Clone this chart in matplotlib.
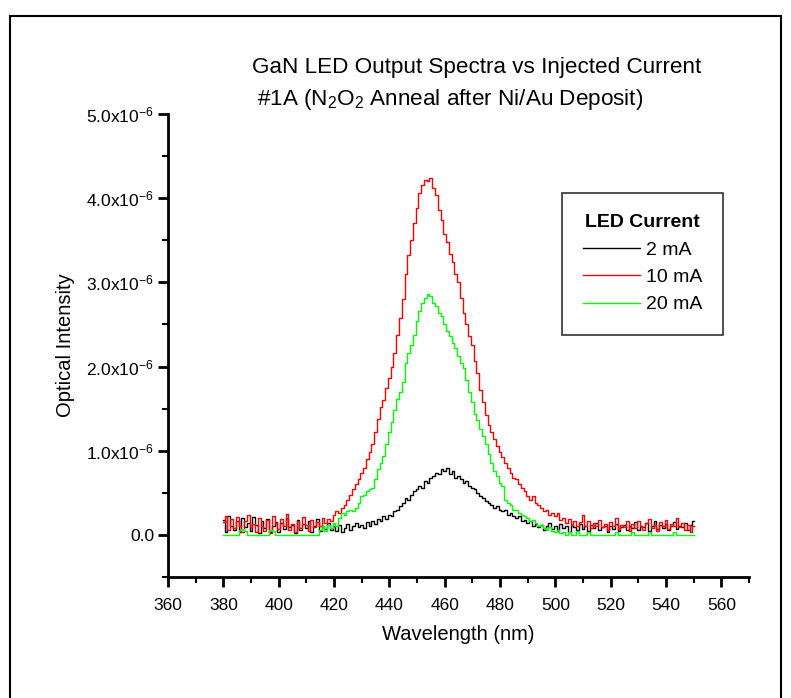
import numpy as np
import matplotlib
matplotlib.use("Agg")
import matplotlib.pyplot as plt
from matplotlib.patches import Rectangle
from matplotlib.lines import Line2D
from matplotlib.ticker import FixedLocator, MultipleLocator

plt.rcParams['font.family'] = ['Liberation Sans', 'DejaVu Sans']
plt.rcParams['mathtext.fontset'] = 'custom'
plt.rcParams['mathtext.rm'] = 'Liberation Sans'
plt.rcParams['mathtext.it'] = 'Liberation Sans'
plt.rcParams['mathtext.bf'] = 'Liberation Sans:bold'

# ---------------- data (intensity in units of 1e-7) ----------------
wavelength_start = 380
wavelength_stop = 550

current_2mA = [
    1.8, 0.4, 2.2, 1.0, 0.6, 1.7, 0.3, 2.0, 0.9, 1.4,
    0.5, 2.1, 1.2, 0.2, 1.6, 0.8, 1.9, 0.4, 1.1, 1.5,
    0.3, 1.4, 0.7, 2.0, 0.9, 1.2, 0.2, 1.8, 0.6, 1.3,
    0.8, 1.6, 0.4, 1.1, 1.9, 0.5, 1.0, 0.7, 1.4, 0.6,
    1.1, 0.5, 1.2, 0.3, 0.8, 1.3, 0.6, 1.0, 1.4, 0.9,
    1.2, 0.8, 1.5, 1.1, 1.7, 1.3, 1.9, 1.6, 2.2, 1.9,
    2.4, 2.2, 2.8, 3.0, 3.4, 3.8, 4.4, 4.2, 4.8, 5.2,
    5.4, 5.8, 5.6, 6.4, 6.2, 6.8, 7.0, 7.4, 7.2, 7.8,
    7.6, 7.9, 7.2, 7.6, 6.8, 7.0, 6.6, 6.2, 6.4, 5.8,
    5.6, 5.4, 5.0, 4.6, 4.4, 4.0, 3.8, 3.6, 3.2, 3.4,
    3.0, 2.8, 3.0, 2.4, 2.6, 2.2, 2.0, 2.2, 1.6, 1.8,
    1.4, 1.6, 1.0, 1.3, 0.9, 1.2, 0.6, 1.0, 1.4, 0.7,
    1.1, 0.5, 1.3, 0.8, 1.0, 0.4, 1.2, 0.9, 0.6, 1.3,
    0.7, 1.0, 0.5, 1.2, 0.8, 1.4, 0.6, 0.9, 1.1, 0.4,
    1.0, 0.7, 1.3, 0.5, 0.9, 1.2, 0.6, 1.0, 0.8, 1.5,
    0.6, 1.1, 0.9, 1.4, 0.5, 1.0, 1.7, 0.7, 1.2, 0.8,
    1.3, 0.6, 1.0, 1.5, 0.7, 1.1, 0.9, 1.4, 0.6, 1.2,
    1.6,
]

current_10mA = [
    1.5, 2.3, 0.6, 1.9, 0.8, 2.1, 1.0, 0.4, 1.7, 2.4,
    0.9, 1.3, 0.3, 2.0, 1.1, 0.5, 1.8, 0.2, 2.2, 1.4,
    0.7, 1.9, 1.0, 2.5, 0.6, 1.3, 0.4, 1.6, 0.8, 2.1,
    1.2, 0.5, 1.8, 0.9, 1.5, 1.1, 2.0, 1.4, 1.9, 1.6,
    2.4, 2.8, 2.6, 3.2, 3.6, 4.2, 4.8, 5.4, 6.0, 6.6,
    7.4, 8.0, 9.0, 9.8, 10.8, 12.2, 13.8, 15.2, 16.0, 17.4,
    18.6, 20.0, 21.6, 23.8, 25.8, 28.0, 31.0, 33.2, 35.0, 37.0,
    38.8, 40.6, 41.6, 42.2, 42.0, 42.4, 41.2, 40.4, 38.6, 37.4,
    35.8, 34.8, 33.4, 32.4, 31.0, 30.0, 28.2, 26.4, 25.0, 23.6,
    22.6, 20.6, 19.2, 17.2, 15.8, 14.2, 13.0, 12.2, 11.4, 10.6,
    9.8, 9.2, 8.6, 8.0, 7.4, 6.8, 6.6, 6.0, 5.6, 5.2,
    4.6, 4.2, 4.6, 3.8, 3.6, 3.2, 2.8, 3.0, 2.4, 2.6,
    2.2, 2.6, 1.8, 2.0, 1.4, 1.9, 1.2, 1.7, 1.0, 1.5,
    2.4, 1.1, 1.6, 0.8, 1.4, 1.0, 1.8, 0.9, 1.3, 0.6,
    1.5, 1.0, 2.0, 0.7, 1.2, 0.9, 1.6, 0.5, 1.3, 0.8,
    1.7, 1.1, 0.6, 1.4, 1.9, 0.8, 1.2, 0.5, 1.5, 1.0,
    1.8, 0.7, 1.3, 1.1, 2.0, 0.9, 1.4, 0.6, 1.2, 0.4,
    1.0,
]

current_20mA = [
    0.0, 0.0, 0.0, 0.0, 0.0, 0.0, 0.6, 0.7, 0.5, 0.0,
    0.0, 0.0, 0.0, 0.0, 0.0, 0.0, 0.0, 0.6, 0.5, 0.0,
    0.0, 0.0, 0.0, 0.0, 0.0, 0.0, 0.0, 0.0, 0.0, 0.0,
    0.0, 0.0, 0.0, 0.0, 0.0, 0.6, 1.0, 0.5, 1.2, 0.8,
    1.4, 1.0, 2.0, 2.6, 2.4, 2.8, 3.0, 2.8, 3.2, 3.8,
    4.6, 4.8, 5.2, 5.4, 5.6, 6.6, 7.8, 8.6, 9.4, 10.8,
    12.2, 13.4, 14.8, 16.2, 17.0, 18.2, 20.4, 21.6, 22.6, 23.8,
    25.4, 26.6, 27.6, 28.2, 28.6, 28.4, 27.6, 27.2, 26.4, 26.0,
    25.0, 24.2, 23.6, 22.8, 22.2, 21.2, 20.4, 19.8, 18.4, 17.0,
    15.8, 14.4, 13.6, 12.6, 11.8, 10.8, 9.6, 8.6, 7.6, 7.0,
    6.2, 5.8, 4.2, 3.8, 3.6, 3.0, 3.0, 2.6, 2.4, 2.2,
    2.0, 1.6, 1.8, 1.4, 1.0, 1.2, 0.8, 0.6, 0.9, 0.5,
    0.4, 0.6, 0.2, 0.4, 0.0, 0.3, 0.0, 0.0, 0.5, 0.0,
    0.0, 0.0, 0.4, 0.0, 0.0, 0.0, 0.0, 0.0, 0.0, 0.0,
    0.0, 0.0, 0.4, 0.0, 0.0, 0.0, 0.0, 0.0, 0.3, 0.0,
    0.0, 0.0, 0.0, 0.0, 0.4, 0.0, 0.0, 0.0, 0.0, 0.0,
    0.0, 0.0, 0.0, 0.3, 0.0, 0.0, 0.0, 0.0, 0.0, 0.0,
    0.0,
]

series_labels = ['2 mA', '10 mA', '20 mA']
series_colors = ['#000000', '#FF0000', '#00FF00']

x_ticks = [360, 380, 400, 420, 440, 460, 480, 500, 520, 540, 560]
x_tick_labels = ['360', '380', '400', '420', '440', '460', '480', '500', '520', '540', '560']
y_ticks = [0.0, 1e-6, 2e-6, 3e-6, 4e-6, 5e-6]
y_tick_labels = ['0.0', r'1.0x10$^{\mathrm{-6}}$', r'2.0x10$^{\mathrm{-6}}$',
                 r'3.0x10$^{\mathrm{-6}}$', r'4.0x10$^{\mathrm{-6}}$', r'5.0x10$^{\mathrm{-6}}$']

# ---------------- figure ----------------
W, H = 791, 698
fig = plt.figure(figsize=(W / 100, H / 100), dpi=100)

# outer frame (bottom edge falls outside the image)
fig.patches.append(Rectangle((10 / W, -0.05), (781 - 10) / W, 1.05 - 16 / H,
                             transform=fig.transFigure, fill=False,
                             edgecolor='black', linewidth=1.5))

ax = fig.add_axes([168 / W, 1 - 577 / H, (749 - 168) / W, (577 - 114) / H])

wl = np.arange(wavelength_start, wavelength_stop + 1)
scale = 1e-7
for vals, lab, col in zip([current_2mA, current_10mA, current_20mA], series_labels, series_colors):
    ax.plot(wl, np.asarray(vals) * scale, drawstyle='steps-mid', color=col,
            linewidth=1.0, label=lab)

ax.set_xlim(360, 570)
ax.set_ylim(-0.5e-6, 5e-6)

for s in ['top', 'right']:
    ax.spines[s].set_visible(False)
for s in ['left', 'bottom']:
    ax.spines[s].set_linewidth(2.0)

ax.xaxis.set_major_locator(FixedLocator(x_ticks))
ax.set_xticklabels(x_tick_labels)
ax.xaxis.set_minor_locator(MultipleLocator(10))
ax.yaxis.set_major_locator(FixedLocator(y_ticks))
ax.set_yticklabels(y_tick_labels)
ax.yaxis.set_minor_locator(MultipleLocator(0.5e-6))

ax.tick_params(which='major', direction='out', length=7, width=2, labelsize=12.5)
ax.tick_params(axis='x', which='major', pad=8)
ax.tick_params(axis='y', which='major', pad=3)
ax.tick_params(which='minor', direction='out', length=4, width=1.5)

ax.set_xlabel('Wavelength (nm)', fontsize=14.5, labelpad=9)
ax.set_ylabel('Optical Intensity', fontsize=14.5, labelpad=8)

fig.text(252 / W, 1 - 68 / H, 'GaN LED Output Spectra vs Injected Current',
         fontsize=16.2, ha='left', va='center')
fig.text(257 / W, 1 - 99 / H, r'#1A (N$_{\mathrm{2}}$O$_{\mathrm{2}}$ Anneal after Ni/Au Deposit)',
         fontsize=16.2, ha='left', va='center')

# legend
handles = [Line2D([], [], color=c, linewidth=1.0) for c in series_colors]
leg = ax.legend(handles, series_labels, title='LED Current',
                loc='upper left', bbox_to_anchor=((562 - 168) / (749 - 168), 1 - (193 - 114) / (577 - 114)),
                frameon=True, fancybox=False, edgecolor='black', fontsize=14,
                title_fontproperties={'weight': 'bold', 'size': 14},
                handlelength=2.9, handletextpad=0.3, labelspacing=0.5,
                borderpad=1.1, borderaxespad=0.0)
leg.get_frame().set_linewidth(1.2)

fig.savefig('out.png', dpi=100)
